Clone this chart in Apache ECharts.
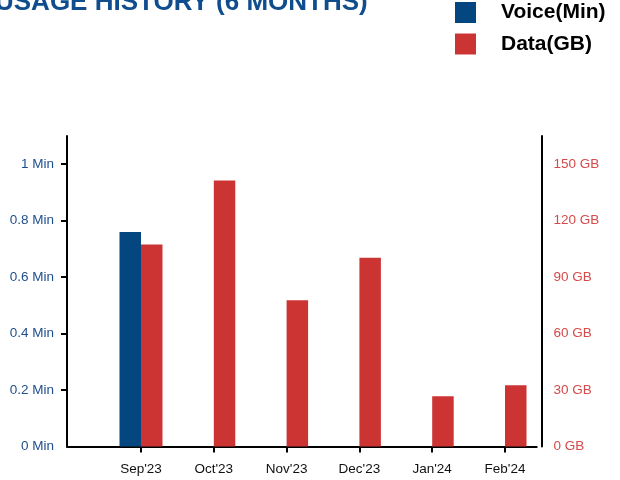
<!DOCTYPE html>
<html>
<head>
<meta charset="utf-8">
<script src="https://cdn.jsdelivr.net/npm/echarts@6/dist/echarts.min.js"></script>
<style>
html,body{margin:0;padding:0;background:#fff;}
#chart{width:620px;height:480px;}
</style>
</head>
<body>
<div id="chart"></div>
<script>
const categories = ["Sep'23", "Oct'23", "Nov'23", "Dec'23", "Jan'24", "Feb'24"];
const voiceMin = [0.76, 0, 0, 0, 0, 0];
const dataGB = [107.4, 141.3, 77.7, 100.3, 26.8, 32.6];
const leftTickValues = [0, 0.2, 0.4, 0.6, 0.8, 1];
const rightTickValues = [0, 30, 60, 90, 120, 150];

const FONT = "'Liberation Sans', Arial, sans-serif";
const chart = echarts.init(document.getElementById('chart'), null, {renderer: 'canvas'});

chart.setOption({
  animation: false,
  backgroundColor: '#ffffff',
  title: {
    text: 'USAGE HISTORY (6 MONTHS)',
    left: -5,
    top: -10,
    padding: 0,
    textStyle: {fontFamily: FONT, fontSize: 26, fontWeight: 'bold', color: '#0f4d8e'}
  },
  legend: {
    orient: 'vertical',
    left: 455,
    top: 2,
    padding: 0,
    itemWidth: 21,
    itemHeight: 21,
    itemGap: 10.5,
    icon: 'rect',
    textStyle: {fontFamily: FONT, fontSize: 21, fontWeight: 'bold', color: '#000', padding: [0, 0, 0, 20]},
    data: ['Voice(Min)', 'Data(GB)']
  },
  grid: [
    {left: 104.6, right: 78.6, top: 136, bottom: 33.4},
    {left: 67, right: 83.3, top: 136, bottom: 33.4}
  ],
  xAxis: [
    {
      type: 'category',
      gridIndex: 0,
      data: categories,
      axisLine: {show: false},
      axisTick: {show: true, alignWithLabel: true, length: 6, lineStyle: {color: '#000', width: 2}},
      axisLabel: {fontFamily: FONT, fontSize: 13.5, color: '#111', margin: 16}
    },
    {
      type: 'value',
      gridIndex: 1,
      min: 0, max: 1,
      axisLine: {show: true, lineStyle: {color: '#000', width: 2}},
      axisTick: {show: false},
      axisLabel: {show: false},
      splitLine: {show: false}
    }
  ],
  yAxis: [
    {
      type: 'value',
      gridIndex: 0,
      position: 'left',
      offset: 37.6,
      min: 0, max: 1.1,
      axisLine: {show: true, lineStyle: {color: '#000', width: 2}},
      axisTick: {show: true, length: 6, lineStyle: {color: '#000', width: 2}, customValues: leftTickValues.slice(1)},
      axisLabel: {fontFamily: FONT, fontSize: 13.5, color: '#1f4e8c', margin: 13,
        customValues: leftTickValues, formatter: v => v + ' Min'},
      splitLine: {show: false}
    },
    {
      type: 'value',
      gridIndex: 0,
      position: 'right',
      min: 0, max: 165,
      axisLine: {show: true, lineStyle: {color: '#000', width: 2}},
      axisTick: {show: false},
      axisLabel: {fontFamily: FONT, fontSize: 13.5, color: '#d44a4a', margin: 12,
        customValues: rightTickValues, formatter: v => v + ' GB'},
      splitLine: {show: false}
    },
    {
      type: 'value',
      gridIndex: 1,
      show: false
    }
  ],
  series: [
    {
      name: 'Voice(Min)',
      type: 'bar',
      xAxisIndex: 0,
      yAxisIndex: 0,
      data: voiceMin,
      barWidth: 21.5,
      barGap: '0%',
      itemStyle: {color: '#04467f'}
    },
    {
      name: 'Data(GB)',
      type: 'bar',
      xAxisIndex: 0,
      yAxisIndex: 1,
      data: dataGB,
      barWidth: 21.5,
      barGap: '0%',
      itemStyle: {color: '#cc3434'}
    }
  ]
});
</script>
</body>
</html>
